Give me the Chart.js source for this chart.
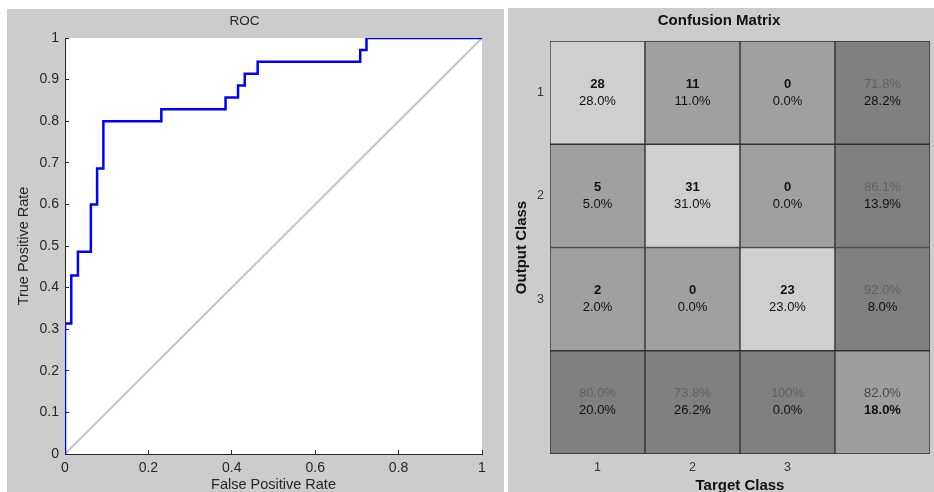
<!DOCTYPE html>
<html>
<head>
<meta charset="utf-8">
<script src="https://cdn.jsdelivr.net/npm/chart.js@4.4.1/dist/chart.umd.min.js"></script>
<style>
  html, body { margin: 0; padding: 0; background: #ffffff; width: 934px; height: 492px; overflow: hidden; }
  .panel { position: absolute; background: #cccccc; }
  #rocPanel { left: 7px; top: 9px; width: 497px; height: 483px; }
  #cmPanel { left: 508px; top: 8px; width: 426px; height: 484px; }
  canvas { display: block; }
</style>
</head>
<body>
<div class="panel" id="rocPanel"><canvas id="roc" width="497" height="483"></canvas></div>
<div class="panel" id="cmPanel"><canvas id="cm" width="426" height="484"></canvas></div>
<script>
// ROC curve corners: false positive rate vs true positive rate
const fpr = [0, 0, 0.015, 0.015, 0.031, 0.031, 0.062, 0.062, 0.077, 0.077, 0.092, 0.092,
             0.231, 0.231, 0.385, 0.385, 0.415, 0.415, 0.431, 0.431, 0.462, 0.462,
             0.708, 0.708, 0.723, 0.723, 1];
const tpr = [0, 0.314, 0.314, 0.429, 0.429, 0.486, 0.486, 0.6, 0.6, 0.686, 0.686, 0.8,
             0.8, 0.829, 0.829, 0.857, 0.857, 0.886, 0.886, 0.914, 0.914, 0.943,
             0.943, 0.971, 0.971, 1, 1];
// chance line
const chanceX = [0, 1];
const chanceY = [0, 1];

// Confusion matrix: rows = output class, columns = target class
const outputClasses = ['1', '2', '3'];
const targetClasses = ['1', '2', '3'];
const counts = [
  [28, 11, 0],
  [5, 31, 0],
  [2, 0, 23]
];

Chart.defaults.font.family = '"Liberation Sans", Arial, sans-serif';
Chart.defaults.color = '#262626';

const plotBg = {
  id: 'plotBg',
  beforeDraw(chart, args, opts) {
    const { ctx, chartArea: a } = chart;
    ctx.save();
    ctx.fillStyle = opts.color || '#ffffff';
    ctx.fillRect(a.left, a.top, a.right - a.left, a.bottom - a.top);
    ctx.restore();
  }
};

const toPoints = (xs, ys) => xs.map((x, i) => ({ x: x, y: ys[i] }));
const axisInk = '#262626';
const shortTick = v => String(Number(v.toFixed(2)));

new Chart(document.getElementById('roc'), {
  type: 'scatter',
  data: {
    datasets: [
      {
        data: toPoints(fpr, tpr),
        showLine: true,
        borderColor: '#0000ff',
        borderWidth: 2.5,
        pointRadius: 0,
        tension: 0,
        clip: 0
      },
      {
        data: toPoints(chanceX, chanceY),
        showLine: true,
        borderColor: '#c4c4c4',
        borderWidth: 2,
        pointRadius: 0,
        clip: 0
      }
    ]
  },
  plugins: [plotBg],
  options: {
    responsive: false,
    animation: false,
    devicePixelRatio: 1,
    layout: { padding: { left: 0, right: 22, top: 0, bottom: 0 } },
    plugins: {
      legend: { display: false },
      tooltip: { enabled: false },
      plotBg: { color: '#ffffff' },
      title: {
        display: true,
        text: 'ROC',
        color: axisInk,
        font: { size: 13.5, weight: 'normal', lineHeight: 1.2 },
        padding: { top: 4, bottom: 8.8 }
      }
    },
    scales: {
      x: {
        type: 'linear',
        min: 0, max: 1,
        afterFit(s) { s.height = 38; },
        ticks: { stepSize: 0.2, color: axisInk, font: { size: 14 }, padding: 9.6, maxRotation: 0, callback: shortTick },
        grid: { drawOnChartArea: false, drawTicks: true, tickLength: -4, color: axisInk },
        border: { display: true, color: axisInk, width: 1 },
        title: {
          display: true, text: 'False Positive Rate', color: axisInk,
          font: { size: 14.5, lineHeight: 1 }, padding: { top: 0, bottom: 0 }
        }
      },
      y: {
        type: 'linear',
        min: 0, max: 1,
        afterFit(s) { s.width = 58; },
        ticks: { stepSize: 0.1, color: axisInk, font: { size: 14 }, padding: 10, callback: shortTick },
        grid: { drawOnChartArea: false, drawTicks: true, tickLength: -4, color: axisInk },
        border: { display: true, color: axisInk, width: 1 },
        title: {
          display: true, text: 'True Positive Rate', color: axisInk,
          font: { size: 14.5, lineHeight: 1 }, padding: { top: 9.5, bottom: 0 }
        }
      }
    }
  }
});

// ---- Confusion matrix as a stacked bar grid ----
const n = counts.length;
const total = counts.flat().reduce((a, b) => a + b, 0);
const rowSum = counts.map(r => r.reduce((a, b) => a + b, 0));
const colSum = targetClasses.map((_, c) => counts.reduce((a, r) => a + r[c], 0));
const diagSum = counts.reduce((a, r, i) => a + r[i], 0);
const pct = v => (Math.abs(v - 100) < 1e-9 ? '100%' : v.toFixed(1) + '%');

const textDark = '#111111';
const accInk = '#626262';

function cellLines(r, c) {
  if (r < n && c < n) {
    return [
      { text: String(counts[r][c]), bold: true, color: textDark },
      { text: pct(100 * counts[r][c] / total), bold: false, color: textDark }
    ];
  }
  if (r < n) {
    const acc = 100 * counts[r][r] / rowSum[r];
    return [{ text: pct(acc), bold: false, color: accInk }, { text: pct(100 - acc), bold: false, color: textDark }];
  }
  if (c < n) {
    const acc = 100 * counts[c][c] / colSum[c];
    return [{ text: pct(acc), bold: false, color: accInk }, { text: pct(100 - acc), bold: false, color: textDark }];
  }
  const acc = 100 * diagSum / total;
  return [{ text: pct(acc), bold: false, color: '#4c4c4c' }, { text: pct(100 - acc), bold: true, color: textDark }];
}

function cellColor(r, c) {
  if (r < n && c < n) return r === c ? '#cfcfcf' : '#a0a0a0';
  if (r === n && c === n) return '#9e9e9e';
  return '#808080';
}

const gridRows = [...outputClasses, ''];
const gridCols = [...targetClasses, ''];

const cmDatasets = gridRows.map((_, r) => ({
  data: gridCols.map(() => 1),
  backgroundColor: gridCols.map((_, c) => cellColor(r, c)),
  borderColor: '#303030',
  borderWidth: 1,
  borderSkipped: false,
  barPercentage: 1,
  categoryPercentage: 1,
  lines: gridCols.map((_, c) => cellLines(r, c))
}));

const cellText = {
  id: 'cellText',
  afterDatasetsDraw(chart) {
    const ctx = chart.ctx;
    ctx.save();
    ctx.textAlign = 'center';
    ctx.textBaseline = 'middle';
    chart.data.datasets.forEach((ds, r) => {
      chart.getDatasetMeta(r).data.forEach((bar, c) => {
        const p = bar.getCenterPoint();
        const lines = ds.lines[c];
        lines.forEach((ln, k) => {
          ctx.font = (ln.bold ? 'bold ' : '') + '13px "Liberation Sans", Arial, sans-serif';
          ctx.fillStyle = ln.color;
          ctx.fillText(ln.text, p.x, p.y + (k === 0 ? -8.5 : 8.5));
        });
      });
    });
    ctx.restore();
  }
};

new Chart(document.getElementById('cm'), {
  type: 'bar',
  data: { labels: gridCols, datasets: cmDatasets },
  plugins: [cellText],
  options: {
    responsive: false,
    animation: false,
    devicePixelRatio: 1,
    layout: { padding: { left: 0, right: 4, top: 0, bottom: 0 } },
    plugins: {
      legend: { display: false },
      tooltip: { enabled: false },
      title: {
        display: true,
        text: 'Confusion Matrix',
        color: textDark,
        font: { size: 15, weight: 'bold', lineHeight: 1.2 },
        padding: { top: 4, bottom: 11 }
      }
    },
    scales: {
      x: {
        type: 'category',
        stacked: true,
        afterFit(s) { s.height = 38; },
        ticks: { color: '#333333', font: { size: 12.5 }, padding: 6, maxRotation: 0 },
        grid: { display: false, drawTicks: false },
        border: { display: false },
        title: {
          display: true, text: 'Target Class', color: textDark,
          font: { size: 15, weight: 'bold', lineHeight: 1 }, padding: { top: 0, bottom: -1.5 }
        }
      },
      y: {
        type: 'linear',
        stacked: true,
        reverse: true,
        min: 0, max: gridRows.length,
        afterFit(s) { s.width = 42; },
        afterBuildTicks(s) { s.ticks = outputClasses.map((_, i) => ({ value: i + 0.5 })); },
        ticks: {
          color: '#333333', font: { size: 12.5 }, padding: 6,
          callback: v => outputClasses[Math.floor(v)]
        },
        grid: { display: false, drawTicks: false },
        border: { display: false },
        title: {
          display: true, text: 'Output Class', color: textDark,
          font: { size: 15, weight: 'bold', lineHeight: 1 }, padding: { top: 6.5, bottom: 0 }
        }
      }
    }
  }
});
</script>
</body>
</html>
